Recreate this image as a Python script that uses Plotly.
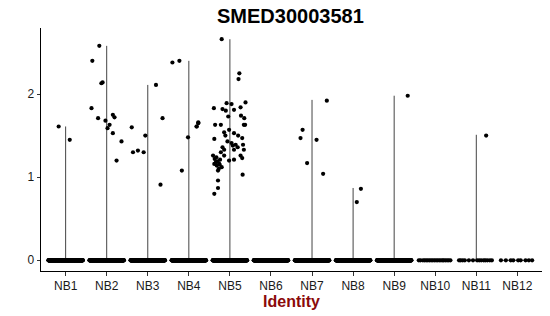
import plotly.graph_objects as go
import numpy as np

categories = ["NB1", "NB2", "NB3", "NB4", "NB5", "NB6", "NB7", "NB8", "NB9", "NB10", "NB11", "NB12"]
# maximum expression per identity (violin extent)
max_values = [1.61, 2.58, 2.11, 2.40, 2.66, 0.0, 1.93, 0.87, 1.98, 0.0, 1.51, 0.0]
# number of zero-expression cells per identity (dense groups)
zero_counts = [200, 200, 200, 200, 200, 200, 200, 200, 200, 0, 0, 0]

# non-zero cells: values per identity
nz_values = {
    "NB1": [1.61, 1.45],
    "NB2": [2.58, 2.40, 2.13, 2.14, 1.83, 1.71, 1.68, 1.63, 1.59, 1.75, 1.72, 1.53, 1.43, 1.20],
    "NB3": [1.60, 1.30, 1.32, 1.30, 1.50, 2.11, 1.71, 0.91],
    "NB4": [2.38, 2.40, 1.48, 1.61, 1.65, 1.08],
    "NB5": [2.66, 2.25, 2.18, 1.89, 1.88, 1.90, 1.83, 1.82, 1.80, 1.81, 1.84, 1.73, 1.74, 1.71,
            1.66, 1.61, 1.63, 1.63, 1.63, 1.63, 1.57, 1.46, 1.54, 1.50, 1.53, 1.50, 1.47, 1.43,
            1.41, 1.39, 1.38, 1.36, 1.33, 1.36, 1.39, 1.33, 1.33, 1.26, 1.30, 1.26, 1.22, 1.21,
            1.19, 1.16, 1.14, 1.16, 1.12, 1.08, 1.20, 1.21, 1.26, 1.23, 1.03, 0.96, 0.87, 0.80,
            1.18, 1.15, 1.24, 1.10],
    "NB7": [1.92, 1.57, 1.47, 1.45, 1.17, 1.04],
    "NB8": [0.86, 0.70],
    "NB9": [1.98],
    "NB11": [1.50],
}
# horizontal jitter of the non-zero cells (fraction of category width)
nz_jitter = {
    "NB1": [-0.17, 0.10],
    "NB2": [-0.18, -0.35, -0.13, -0.10, -0.37, -0.21, -0.03, 0.07, 0.02, 0.15, 0.19, 0.15, 0.36, 0.24],
    "NB3": [-0.39, -0.36, -0.24, -0.10, -0.06, 0.20, 0.36, 0.31],
    "NB4": [-0.40, -0.23, -0.02, 0.19, 0.23, -0.17],
    "NB5": [-0.20, 0.23, 0.21, -0.08, 0.04, 0.38, -0.39, -0.18, -0.10, 0.10, 0.26, -0.04, 0.27, 0.35,
            -0.77, -0.81, -0.36, -0.22, 0.34, 0.37, -0.02, -0.38, -0.14, -0.11, 0.10, 0.20, 0.30, -0.06,
            0.04, 0.14, 0.07, -0.18, -0.14, 0.19, 0.32, 0.34, 0.10, -0.41, -0.22, -0.14, -0.37, -0.24,
            -0.30, -0.38, -0.32, -0.26, -0.20, -0.29, -0.02, 0.10, 0.26, 0.30, 0.31, -0.29, -0.29, -0.38,
            -0.34, -0.25, -0.33, -0.27],
    "NB7": [0.36, -0.23, -0.28, 0.11, -0.12, 0.27],
    "NB8": [0.19, 0.09],
    "NB9": [0.33],
    "NB11": [0.24],
}
# explicit positions of the sparse zero cells in the small groups
sparse_zero_jitter = {
    "NB10": [-0.40, -0.36, -0.30, -0.26, -0.22, -0.18, -0.14, -0.10, -0.06, -0.02, 0.02, 0.06,
             0.10, 0.14, 0.18, 0.21, 0.25, 0.29, 0.33, 0.37],
    "NB11": [-0.42, -0.38, -0.33, -0.28, -0.18, -0.08, 0.02, 0.07, 0.12, 0.18, 0.22, 0.27, 0.33, 0.38],
    "NB12": [-0.40, -0.28, -0.16, -0.10, 0.02, 0.08, 0.20, 0.28, 0.36],
}

fig = go.Figure()

# violins collapse to thin vertical lines (most cells are zero)
for i, (c, m) in enumerate(zip(categories, max_values)):
    xi = i + 1
    if m > 0:
        fig.add_trace(go.Scatter(x=[xi, xi], y=[0, m], mode="lines",
                                 line=dict(color="#444444", width=1), hoverinfo="skip",
                                 showlegend=False))
    fig.add_trace(go.Scatter(x=[xi - 0.4, xi + 0.4], y=[0, 0], mode="lines",
                             line=dict(color="#444444", width=1), hoverinfo="skip",
                             showlegend=False))

xs, ys = [], []
for i, c in enumerate(categories):
    xi = i + 1
    if c in sparse_zero_jitter:
        offs = sparse_zero_jitter[c]
    else:
        offs = np.linspace(-0.42, 0.42, zero_counts[i])
    for o in offs:
        xs.append(xi + o)
        ys.append(0.0)
    if c in nz_values:
        for v, o in zip(nz_values[c], nz_jitter[c]):
            xs.append(xi + o)
            ys.append(v)

fig.add_trace(go.Scatter(x=xs, y=ys, mode="markers",
                         marker=dict(color="black", size=4.2, line=dict(width=0)),
                         showlegend=False, hoverinfo="skip"))

fig.update_layout(
    width=550, height=316,
    margin=dict(l=41, r=8, t=28, b=45),
    paper_bgcolor="white", plot_bgcolor="white",
    font=dict(family="Liberation Sans, Arial", size=12, color="black"),
    title=dict(text="<b>SMED30003581</b>", x=0.528, xanchor="center", y=0.95, yanchor="middle",
               font=dict(size=20, color="black")),
    showlegend=False,
)
fig.update_xaxes(
    range=[0.4, 12.6],
    tickmode="array", tickvals=list(range(1, 13)), ticktext=categories,
    showline=True, linecolor="black", linewidth=1,
    ticks="outside", ticklen=3.5, tickcolor="#333333",
    showgrid=False, zeroline=False,
    tickfont=dict(size=12, color="#1a1a1a"),
    title=dict(text="<b>Identity</b>", font=dict(size=16, color="#8B0A0A"), standoff=2),
)
fig.update_yaxes(
    range=[-0.129, 2.795],
    tickvals=[0, 1, 2], ticktext=["0", "1", "2"],
    showline=True, linecolor="black", linewidth=1,
    ticks="outside", ticklen=3.5, tickcolor="#333333",
    showgrid=False, zeroline=False,
    tickfont=dict(size=12, color="#1a1a1a"),
)

fig.write_html("out.html")
